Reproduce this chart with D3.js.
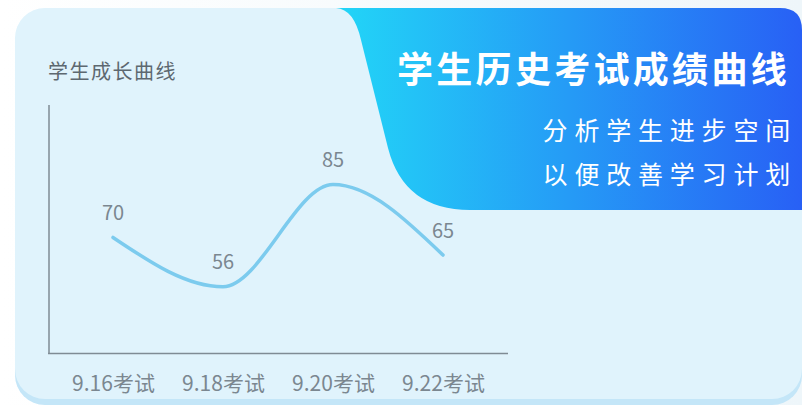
<!DOCTYPE html>
<html><head><meta charset="utf-8">
<script src="https://cdn.jsdelivr.net/npm/d3@7/dist/d3.min.js"></script>
<style>
html,body{margin:0;padding:0;background:#f2f8fb;}
svg{display:block;}
text{font-family:"Noto Sans CJK SC","Noto Sans",sans-serif;}
</style></head>
<body>
<svg id="chart" width="802" height="405"></svg>
<script>
const categories = ["9.16考试", "9.18考试", "9.20考试", "9.22考试"];
const scores = [70, 56, 85, 65];
const title = "学生历史考试成绩曲线";
const subtitleLines = ["分析学生进步空间", "以便改善学习计划"];
const yTitle = "学生成长曲线";

const svg = d3.select("#chart");
const defs = svg.append("defs");
const grad = defs.append("linearGradient").attr("id","hdr").attr("x1","0").attr("x2","1").attr("y1","0").attr("y2","0");
grad.append("stop").attr("offset","0%").attr("stop-color","#22d6f7");
grad.append("stop").attr("offset","100%").attr("stop-color","#2860f5");
const bg = defs.append("linearGradient").attr("id","pagebg").attr("x1","0").attr("x2","1");
bg.append("stop").attr("offset","0%").attr("stop-color","#ffffff");
bg.append("stop").attr("offset","100%").attr("stop-color","#eef6fa");

svg.append("rect").attr("width",802).attr("height",405).attr("fill","url(#pagebg)");
// card shadow + card
svg.append("rect").attr("x",15).attr("y",14).attr("width",787).attr("height",391).attr("rx",30).attr("fill","#c4e6f8");
svg.append("rect").attr("x",15).attr("y",8).attr("width",787).attr("height",391).attr("rx",30).attr("fill","#e0f3fc");

// header shape
svg.append("path")
  .attr("d","M336,8 Q354,9 361,40 L388,148 Q404,210 470,210 L802,210 L802,30 Q802,8 780,8 Z")
  .attr("fill","url(#hdr)");

svg.append("text").attr("x",790).attr("y",67).attr("text-anchor","end")
  .attr("dominant-baseline","central").attr("fill","#ffffff")
  .attr("font-size",36).attr("font-weight","bold").attr("letter-spacing",3.3)
  .text(title);
svg.selectAll("text.sub").data(subtitleLines).join("text").attr("class","sub")
  .attr("x",797).attr("y",(d,i)=>129 + i*43.5).attr("text-anchor","end")
  .attr("dominant-baseline","central").attr("fill","#ffffff")
  .attr("font-size",25).attr("letter-spacing",6.8)
  .text(d=>d);

// y title
svg.append("text").attr("x",48).attr("y",70).attr("dominant-baseline","central")
  .attr("fill","#5d6870").attr("font-size",20).attr("letter-spacing",1.5).text(yTitle);

// scales
const x = d3.scalePoint().domain(categories).range([113,443]);
const y = d3.scaleLinear().domain([37.2,107.6]).range([353,105]);

// axes lines
const axisColor = "#7f8b94";
svg.append("line").attr("x1",49).attr("x2",49).attr("y1",105).attr("y2",354)
  .attr("stroke",axisColor).attr("stroke-width",1.5);
svg.append("line").attr("x1",48).attr("x2",508).attr("y1",353.5).attr("y2",353.5)
  .attr("stroke",axisColor).attr("stroke-width",1.5);

const xAxis = svg.append("g").attr("transform","translate(0,353)")
  .call(d3.axisBottom(x).tickSize(0).tickPadding(0));
xAxis.select(".domain").remove();
xAxis.selectAll("text").attr("y",29).attr("dy",null).attr("dominant-baseline","central")
  .attr("fill","#7b8790").attr("font-size",21)
  .attr("font-family","\"Noto Sans CJK SC\",\"Noto Sans\",sans-serif");

// line
const line = d3.line().x((d,i)=>x(categories[i])).y(d=>y(d)).curve(d3.curveMonotoneX);
svg.append("path").datum(scores).attr("d",line).attr("fill","none")
  .attr("stroke","#7ccbee").attr("stroke-width",3.5).attr("stroke-linecap","round");

// value labels
svg.selectAll("text.val").data(scores).join("text").attr("class","val")
  .attr("x",(d,i)=>x(categories[i])).attr("y",d=>y(d)-26)
  .attr("text-anchor","middle").attr("dominant-baseline","central")
  .attr("fill","#7b8790").attr("font-size",20).text(d=>d);
</script>
</body></html>
